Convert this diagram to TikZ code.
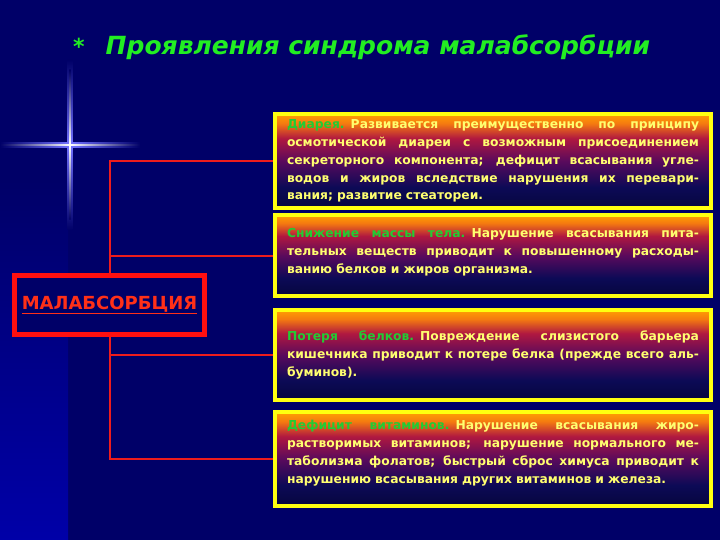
\documentclass[tikz,border=0pt]{standalone}
\usepackage{fontspec}
\setmainfont{DejaVu Sans}

\definecolor{bgnavy}{HTML}{000068}
\definecolor{stripblue}{HTML}{0000A8}
\definecolor{cardyellow}{HTML}{FFFF10}
\definecolor{textyellow}{HTML}{FFFF70}
\definecolor{leadgreen}{HTML}{22CC33}
\definecolor{titlegreen}{HTML}{22EE22}
\definecolor{linkred}{HTML}{EE1C1C}
\definecolor{mainred}{HTML}{FF1010}
\definecolor{malred}{HTML}{FF3018}
\definecolor{cardnavy}{HTML}{06063E}
\definecolor{cardnavyb}{HTML}{0C0A56}
\definecolor{cardpurple}{HTML}{5A0A5C}
\definecolor{cardcrimson}{HTML}{B01840}
\definecolor{cardorange}{HTML}{F57A10}
\definecolor{cardtop}{HTML}{FFA000}

\pgfdeclareverticalshading{cardfill}{100bp}{color(0bp)=(cardnavy); color(25bp)=(cardnavy);
  color(36bp)=(cardnavyb); color(50bp)=(cardpurple); color(62bp)=(cardcrimson);
  color(70bp)=(cardorange); color(75bp)=(cardtop); color(100bp)=(cardtop)}

\newlength\cardw
\setlength\cardw{412pt}
\newcommand\jline[1]{\leavevmode\hbox to\cardw{\spaceskip=0.33em plus 1fil\relax #1}\\}
\newcommand\lead[1]{\textcolor{leadgreen}{#1}}

\begin{document}
\begin{tikzpicture}[x=1pt,y=-1pt,
    card/.style={draw=cardyellow, line width=4pt, shading=cardfill,
      minimum width=436pt, text width=\cardw, align=left, inner sep=0pt,
      text=textyellow, font=\fontsize{12.3}{17.8}\selectfont\bfseries},
    link/.style={draw=linkred, line width=2pt},
    mainbox/.style={draw=mainred, line width=5pt, fill=bgnavy,
      minimum width=190pt, minimum height=59pt, inner sep=0pt,
      text=malred, font=\fontsize{18}{20}\selectfont\bfseries},
    titletext/.style={text=titlegreen, inner sep=0pt,
      font=\fontsize{25}{28}\selectfont\bfseries\itshape}]

  % background
  \fill[bgnavy] (0,0) rectangle (720,540);
  \useasboundingbox (0,0) rectangle (720,540);
  \shade[top color=bgnavy, bottom color=stripblue] (0,180) rectangle (68,540);

  % sparkle
  \shade[left color=bgnavy, right color=bgnavy, middle color=blue!55!white] (0,142.5) rectangle (140,147.5);
  \shade[top color=bgnavy, bottom color=bgnavy, middle color=blue!55!white] (67.5,60) rectangle (72.5,230);
  \shade[left color=bgnavy, right color=bgnavy, middle color=white] (0,144.3) rectangle (140,145.7);
  \shade[top color=bgnavy, bottom color=bgnavy, middle color=white] (69.3,70) rectangle (70.7,220);

  % title
  \node[titletext, anchor=base west] (title) at (73,55)
    {{\fontsize{22}{22}\selectfont\upshape *}\hspace{21pt}Проявления синдрома малабсорбции};

  % cards
  \node[card, minimum height=94pt] (b1) at (493,161) {%
    \jline{\lead{Диарея.} Развивается преимущественно по принципу}
    \jline{осмотической диареи с возможным присоединением}
    \jline{секреторного компонента; дефицит всасывания угле-}
    \jline{водов и жиров вследствие нарушения их перевари-}
    вания; развитие стеатореи.};
  \node[card, minimum height=81pt] (b2) at (493,255.5) {%
    \jline{\lead{Снижение массы тела.} Нарушение всасывания пита-}
    \jline{тельных веществ приводит к повышенному расходы-}
    ванию белков и жиров организма.\par\vspace*{6pt}};
  \node[card, minimum height=90pt] (b3) at (493,355) {%
    \jline{\lead{Потеря белков.} Повреждение слизистого барьера}
    \jline{кишечника приводит к потере белка (прежде всего аль-}
    буминов).};
  \node[card, minimum height=94pt] (b4) at (493,459) {%
    \jline{\lead{Дефицит витаминов.} Нарушение всасывания жиро-}
    \jline{растворимых витаминов; нарушение нормального ме-}
    \jline{таболизма фолатов; быстрый сброс химуса приводит к}
    нарушению всасывания других витаминов и железа.\par\vspace*{12pt}};

  % links
  \coordinate (trunk) at (110,0);
  \draw[link] (b1.west) -- (b1.west -| trunk) -- (b4.west -| trunk) -- (b4.west);
  \draw[link] (b2.west) -- (b2.west -| trunk);
  \draw[link] (b3.west) -- (b3.west -| trunk);

  % main box
  \node[mainbox] (mal) at (109.5,305) {\underline{МАЛАБСОРБЦИЯ}};
\end{tikzpicture}
\end{document}
